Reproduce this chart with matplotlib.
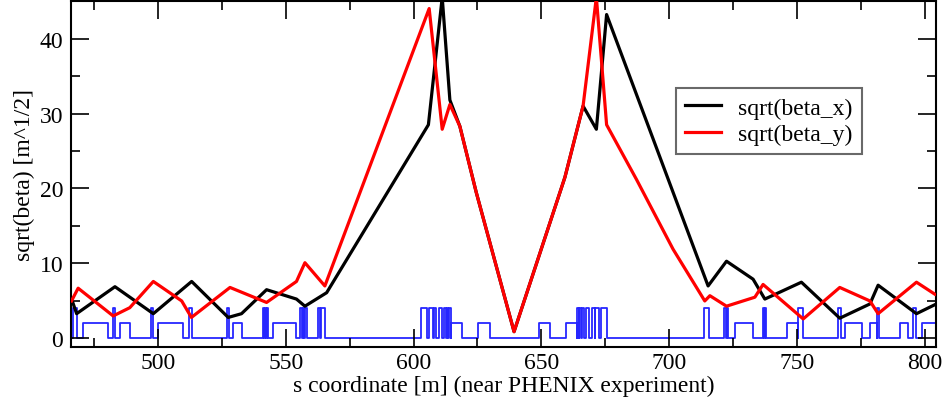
import numpy as np
import matplotlib.pyplot as plt
from matplotlib.ticker import MultipleLocator

# sqrt(beta_x) along s
s_x = [466.2, 468.2, 483.2, 498.2, 513.2, 527.5, 532.7, 542.5, 554.2, 557.5,
       566.0, 605.8, 611.2, 614.2, 618.1, 624.5, 639.3, 659.2, 666.3, 671.5,
       675.5, 715.2, 722.4, 732.8, 737.4, 751.7, 766.7, 778.5, 781.7, 796.7,
       803.9]
beta_x = [5.3, 3.3, 6.9, 3.3, 7.6, 2.8, 3.3, 6.5, 5.25, 4.3,
          6.1, 28.5, 45.5, 31.8, 28.3, 19.5, 0.9, 21.5, 31.0, 27.9,
          43.2, 7.0, 10.3, 7.9, 5.25, 7.5, 2.7, 4.6, 7.1, 3.3,
          4.5]

# sqrt(beta_y) along s
s_y = [466.2, 468.8, 482.5, 489.0, 498.2, 509.3, 513.1, 528.2, 542.5, 554.2,
       557.5, 565.3, 606.1, 611.2, 614.2, 618.1, 624.5, 639.3, 659.2, 666.3,
       671.5, 675.5, 687.2, 701.5, 713.9, 715.9, 722.4, 733.5, 736.7, 752.4,
       766.7, 778.5, 781.7, 796.7, 803.9]
beta_y = [5.0, 6.7, 3.0, 4.1, 7.6, 5.0, 2.8, 6.8, 4.8, 7.6,
          10.1, 7.0, 44.0, 27.9, 31.2, 28.3, 19.5, 0.9, 21.5, 31.0,
          45.5, 28.5, 21.2, 11.9, 5.0, 5.7, 4.3, 5.5, 7.2, 2.6,
          6.8, 5.0, 3.3, 7.5, 5.9]

# magnet layout: start, end, height
mag_start = [466.6, 470.8, 482.5, 485.1, 497.3, 500.1, 512.1, 526.9, 529.5,
             541.2, 542.0, 542.7, 545.1, 555.5, 556.6, 557.6, 562.8, 563.8,
             603.1, 606.2, 607.8, 609.8, 611.8, 613.0, 613.8, 614.5, 625.3,
             649.0, 659.7, 664.0, 664.9, 665.9, 667.3, 669.6, 671.0, 673.2,
             713.6, 721.5, 722.4, 725.9, 736.6, 737.3, 746.0, 750.5, 766.1,
             768.7, 778.5, 781.1, 790.2, 795.4, 798.7]
mag_end = [468.3, 480.3, 483.4, 489.0, 498.2, 509.9, 513.2, 527.8, 533.0,
           541.6, 542.4, 543.1, 554.0, 556.2, 557.2, 558.2, 563.5, 565.3,
           605.4, 607.6, 608.9, 611.2, 612.7, 613.5, 614.5, 618.8, 629.8,
           653.3, 664.0, 664.6, 665.6, 666.7, 668.7, 670.8, 672.4, 675.5,
           715.4, 722.1, 723.0, 732.8, 737.0, 737.8, 750.5, 752.4, 767.2,
           775.3, 781.1, 782.1, 793.4, 796.4, 805.0]
mag_h = [4, 2, 4, 2, 4, 2, 4, 4, 2,
         4, 4, 4, 2, 4, 4, 4, 4, 4,
         4, 4, 4, 4, 4, 4, 4, 2, 2,
         2, 2, 4, 4, 4, 4, 4, 4, 4,
         4, 4, 4, 2, 4, 4, 2, 4, 4,
         2, 2, 4, 2, 4, 2]

# build step outline of the magnets
lat_s = [460.0]
lat_v = [0]
for a, b, h in zip(mag_start, mag_end, mag_h):
    lat_s += [a, a, b, b]
    lat_v += [0, h, h, 0]
lat_s.append(810.0)
lat_v.append(0)

plt.rcParams['font.family'] = ['Liberation Serif', 'DejaVu Serif']

fig = plt.figure(figsize=(9.47, 4.10), dpi=100)
ax = fig.add_axes([0.0755, 0.152, 0.9125, 0.843])

ax.plot(lat_s, lat_v, color='#2626ff', lw=1.3, zorder=1)
ax.plot(s_x, beta_x, color='black', lw=2.3, label='sqrt(beta_x)', zorder=2)
ax.plot(s_y, beta_y, color='#ff0000', lw=2.3, label='sqrt(beta_y)', zorder=3)

ax.set_xlim(466.2, 804.2)
ax.set_ylim(-1.1, 45)

ax.xaxis.set_major_locator(MultipleLocator(50))
ax.xaxis.set_minor_locator(MultipleLocator(25))
ax.yaxis.set_major_locator(MultipleLocator(10))
ax.yaxis.set_minor_locator(MultipleLocator(5))
ax.tick_params(which='both', direction='in', top=True, right=True,
               labelsize=17, width=1.2)
ax.tick_params(axis='x', pad=4)
ax.tick_params(axis='y', pad=6)
ax.tick_params(which='major', length=13)
ax.tick_params(which='minor', length=6.5)
for sp in ax.spines.values():
    sp.set_linewidth(1.5)

ax.set_xlabel('s coordinate [m] (near PHENIX experiment)', fontsize=17, labelpad=1)
ax.set_ylabel('sqrt(beta) [m^1/2]', fontsize=17, labelpad=3)

leg = ax.legend(loc='upper left', bbox_to_anchor=(0.700, 0.748), borderaxespad=0,
                fontsize=17, fancybox=False, handlelength=1.5, handletextpad=0.75,
                borderpad=0.38, labelspacing=0.2)
leg.get_frame().set_edgecolor('#444444')
leg.get_frame().set_linewidth(1.5)

fig.savefig('out.png', dpi=100)
